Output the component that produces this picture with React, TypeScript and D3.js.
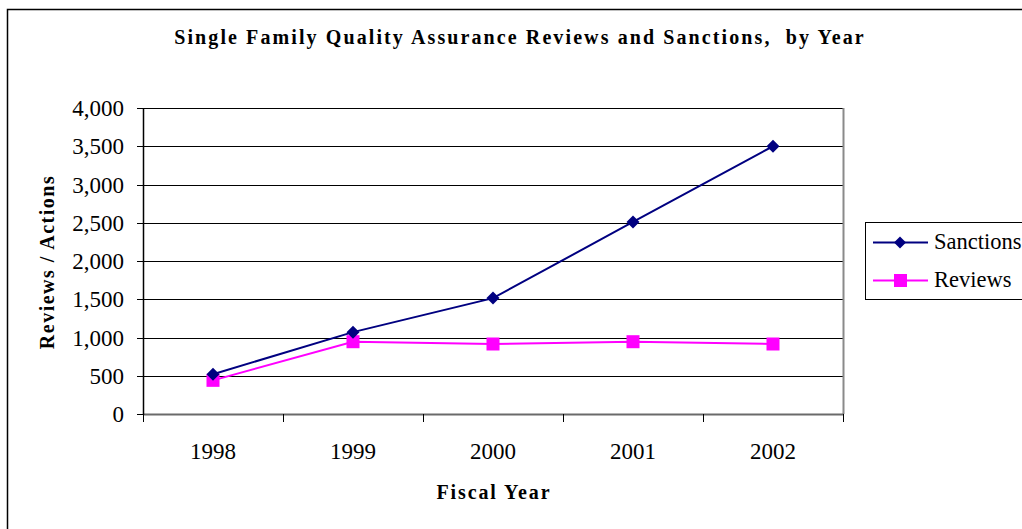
import React from "react";
import * as d3 from "d3";

const years = ["1998", "1999", "2000", "2001", "2002"];
const sanctions = [520, 1070, 1515, 2510, 3500];
const reviews = [440, 945, 915, 945, 915];
const yTicks = [0, 500, 1000, 1500, 2000, 2500, 3000, 3500, 4000];

const W = 1022;
const H = 529;
const L = 143, R = 843, T = 108, B = 414;
const FONT = "'Liberation Serif', 'Times New Roman', serif";

export default function App() {
  const x = d3.scaleBand<string>().domain(years).range([L, R]).paddingInner(0).paddingOuter(0);
  const y = d3.scaleLinear().domain([0, 4000]).range([B, T]);
  const cx = (yr: string) => (x(yr) as number) + x.bandwidth() / 2;
  const line = d3
    .line<number>()
    .x((_, i) => cx(years[i]))
    .y((d) => y(d));
  const fmt = d3.format(",");
  const diamond = (px: number, py: number, r = 6.5) =>
    `M${px},${py - r}L${px + r},${py}L${px},${py + r}L${px - r},${py}Z`;
  const boundaries = [...years.map((yr) => x(yr) as number), R];

  return (
    <svg
      width={W}
      height={H}
      style={{ position: "absolute", left: 0, top: 0, background: "#fff" }}
    >
      <rect x={0} y={0} width={W} height={H} fill="#fff" />
      <rect x={7.5} y={9.5} width={W + 10} height={H + 10} fill="none" stroke="#000" strokeWidth={1.5} />
      <text
        x={520}
        y={44}
        textAnchor="middle"
        fontFamily={FONT}
        fontWeight="bold"
        fontSize={20}
        letterSpacing={2.1}
        style={{ whiteSpace: "pre" }}
      >
        {"Single Family Quality Assurance Reviews and Sanctions,  by Year"}
      </text>
      {/* gridlines */}
      {yTicks.map((t) => (
        <line key={"g" + t} x1={L} x2={R} y1={Math.round(y(t)) + 0.5} y2={Math.round(y(t)) + 0.5} stroke="#000" strokeWidth={1} />
      ))}
      {/* plot right border */}
      <line x1={R + 0.5} x2={R + 0.5} y1={T} y2={B} stroke="#8a8a8a" strokeWidth={2} />
      {/* bottom axis */}
      <line x1={L} x2={R + 1} y1={B + 0.5} y2={B + 0.5} stroke="#6a6a6a" strokeWidth={2} />
      {/* left axis */}
      <line x1={L + 0.5} x2={L + 0.5} y1={T} y2={B + 1} stroke="#000" strokeWidth={1.5} />
      {yTicks.map((t) => (
        <g key={"y" + t}>
          <line x1={L - 6} x2={L} y1={Math.round(y(t)) + 0.5} y2={Math.round(y(t)) + 0.5} stroke="#000" />
          <text x={124} y={y(t) + 8} textAnchor="end" fontFamily={FONT} fontSize={23}>
            {fmt(t)}
          </text>
        </g>
      ))}
      {boundaries.map((bx, i) => (
        <line key={"xt" + i} x1={bx + 0.5} x2={bx + 0.5} y1={B} y2={B + 8} stroke="#000" />
      ))}
      {years.map((yr) => (
        <text key={"xl" + yr} x={cx(yr)} y={459} textAnchor="middle" fontFamily={FONT} fontSize={23}>
          {yr}
        </text>
      ))}
      <text x={494} y={499} textAnchor="middle" fontFamily={FONT} fontWeight="bold" fontSize={20} letterSpacing={1.9}>
        Fiscal Year
      </text>
      <text
        transform={`translate(54,262) rotate(-90)`}
        textAnchor="middle"
        fontFamily={FONT}
        fontWeight="bold"
        fontSize={20}
        letterSpacing={1.5}
      >
        Reviews / Actions
      </text>
      {/* series */}
      <path d={line(reviews) || ""} fill="none" stroke="#ff00ff" strokeWidth={2} />
      <path d={line(sanctions) || ""} fill="none" stroke="#000080" strokeWidth={2} />
      {reviews.map((v, i) => (
        <rect key={"r" + i} x={cx(years[i]) - 6.5} y={y(v) - 6.5} width={13} height={13} fill="#ff00ff" />
      ))}
      {sanctions.map((v, i) => (
        <path key={"s" + i} d={diamond(cx(years[i]), y(v))} fill="#000080" />
      ))}
      {/* legend */}
      <rect x={865.5} y={222.5} width={170} height={77} fill="#fff" stroke="#000" strokeWidth={1} />
      <line x1={873} x2={928} y1={242.5} y2={242.5} stroke="#000080" strokeWidth={2} />
      <path d={diamond(900, 242.5, 6)} fill="#000080" />
      <text x={934} y={249} fontFamily={FONT} fontSize={22.5}>Sanctions</text>
      <line x1={873} x2={928} y1={280.5} y2={280.5} stroke="#ff00ff" strokeWidth={2} />
      <rect x={894} y={274} width={13} height={13} fill="#ff00ff" />
      <text x={934} y={287} fontFamily={FONT} fontSize={22.5}>Reviews</text>
    </svg>
  );
}
